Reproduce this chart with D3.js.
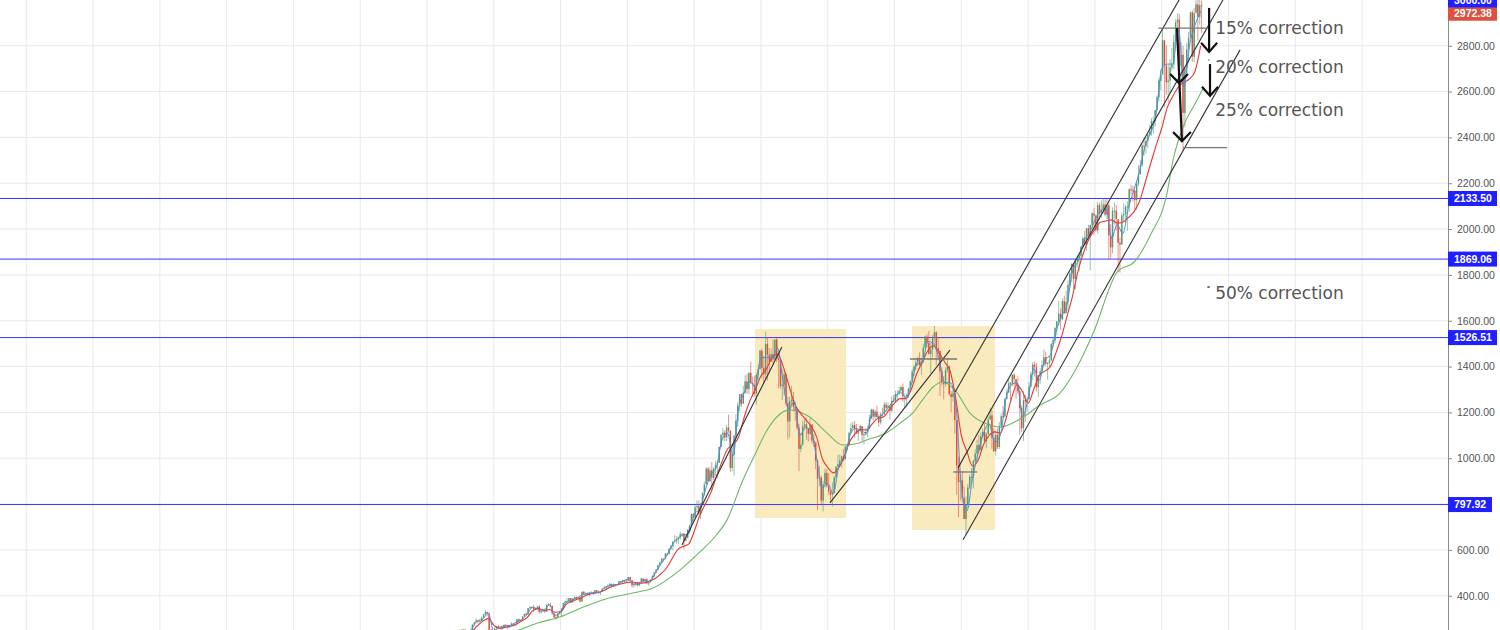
<!DOCTYPE html>
<html><head><meta charset="utf-8">
<script src="https://cdn.jsdelivr.net/npm/d3@7"></script>
<style>body{margin:0;background:#fff;overflow:hidden}svg{display:block}</style>
</head><body>
<svg id="chart" width="1500" height="630"></svg>
<script>
// ---------------- DATA (S&P 500, monthly bars from Jan 1986) ----------------
const firstMonth = 1986;      // first bar = Jan 1986
const firstOpen = 211.3;
const closes = [
211.8,226.9,238.9,235.5,247.4,250.8,236.1,252.9,231.3,244.0,249.2,242.2,
274.1,284.2,291.7,288.4,290.1,304.0,318.7,329.8,321.8,251.8,230.3,247.1,
257.1,267.8,258.9,261.3,262.2,273.5,272.0,261.5,271.9,279.0,273.7,277.7,
297.5,288.9,294.9,309.6,320.5,318.0,346.1,351.5,349.2,340.4,346.0,353.4,
329.1,331.9,339.9,330.8,361.2,358.0,356.2,322.6,306.1,304.0,322.2,330.2,
343.9,367.1,375.2,375.3,389.8,371.2,387.8,395.4,387.9,392.5,375.2,417.1,
408.8,412.7,403.7,415.0,415.4,408.1,424.2,414.0,417.8,418.7,431.4,435.7,
438.8,443.4,451.7,440.2,450.2,450.5,448.1,463.6,458.9,467.8,461.8,466.5,
481.6,467.1,445.8,450.9,456.5,444.3,458.3,475.5,462.7,472.4,453.7,459.3,
470.4,487.4,500.7,514.7,533.4,544.8,562.1,561.9,584.4,581.5,605.4,615.9,
636.0,640.4,645.5,654.2,669.1,670.6,640.0,652.0,687.3,705.3,757.0,740.7,
786.2,790.8,757.1,801.3,848.3,885.1,954.3,899.5,947.3,914.6,955.4,970.4,
980.3,1049.3,1101.8,1111.8,1090.8,1133.8,1120.7,957.3,1017.0,1098.7,1163.6,1229.2,
1279.6,1238.3,1286.4,1335.2,1301.8,1372.7,1328.7,1320.4,1282.7,1362.9,1388.9,1469.3,
1394.5,1366.4,1498.6,1452.4,1420.6,1454.6,1430.8,1517.7,1436.5,1429.4,1315.0,1320.3,
1366.0,1239.9,1160.3,1249.5,1255.8,1224.4,1211.2,1133.6,1040.9,1059.8,1139.5,1148.1,
1130.2,1106.7,1147.4,1076.9,1067.1,989.8,911.6,916.1,815.3,885.8,936.3,879.8,
855.7,841.2,848.2,916.9,963.6,974.5,990.3,1008.0,996.0,1050.7,1058.2,1111.9,
1131.1,1144.9,1126.2,1107.3,1120.7,1140.8,1101.7,1104.2,1114.6,1130.2,1173.8,1211.9,
1181.3,1203.6,1180.6,1156.9,1191.5,1191.3,1234.2,1220.3,1228.8,1207.0,1249.5,1248.3,
1280.1,1280.7,1294.9,1310.6,1270.1,1270.2,1276.7,1303.8,1335.9,1377.9,1400.6,1418.3,
1438.2,1406.8,1420.9,1482.4,1530.6,1503.4,1455.3,1474.0,1526.8,1549.4,1481.1,1468.4,
1378.6,1330.6,1322.7,1385.6,1400.4,1280.0,1267.4,1282.8,1166.4,968.8,896.2,903.3,
825.9,735.1,797.9,872.8,919.1,919.3,987.5,1020.6,1057.1,1036.2,1095.6,1115.1,
1073.9,1104.5,1169.4,1186.7,1089.4,1030.7,1101.6,1049.3,1141.2,1183.3,1180.6,1257.6,
1286.1,1327.2,1325.8,1363.6,1345.2,1320.6,1292.3,1218.9,1131.4,1253.3,1247.0,1257.6,
1312.4,1365.7,1408.5,1397.9,1310.3,1362.2,1379.3,1406.6,1440.7,1412.2,1416.2,1426.2,
1498.1,1514.7,1569.2,1597.6,1630.7,1606.3,1685.7,1633.0,1681.6,1756.5,1805.8,1848.4,
1782.6,1859.5,1872.3,1884.0,1923.6,1960.2,1930.7,2003.4,1972.3,2018.1,2067.6,2058.9,
1995.0,2104.5,2067.9,2085.5,2107.4,2063.1,2103.8,1972.2,1920.0,2079.4,2080.4,2043.9,
1940.2,1932.2,2059.7,2065.3,2097.0,2098.9,2173.6,2171.0,2168.3,2126.2,2198.8,2238.8,
2278.9,2363.6,2362.7,2384.2,2411.8,2423.4,2470.3,2471.7,2519.4,2575.3,2647.6,2673.6,
2823.8,2713.8,2640.9,2648.1,2705.3,2718.4,2816.3,2901.5,2914.0,2711.7,2760.2,2506.9,
2704.1,2784.5,2834.4,2945.8,2752.1,2941.8,2980.4,2926.5,2976.7,2972.4
];
const highs = [
214,227,240,244,248,251,253,254,254,245,250,254,
275,285,302,294,296,310,320,338,329,328,256,253,
262,268,271,264,263,274,274,272,272,284,280,279,
297,301,297,311,322,328,346,354,350,360,347,354,
360,335,345,345,362,368,370,356,325,315,323,332,
344,370,379,391,390,390,389,396,395,395,397,418,
421,414,413,417,420,416,425,424,423,420,432,441,
440,449,456,452,454,451,451,464,464,470,469,471,
482,482,469,454,460,462,461,477,475,474,474,466,
472,489,504,516,533,551,563,564,586,587,608,622,
638,664,661,658,679,674,675,667,691,710,758,762,
794,817,815,805,851,898,961,961,961,983,960,987,
992,1051,1106,1131,1123,1145,1190,1122,1066,1103,1193,1245,
1280,1283,1316,1362,1368,1376,1421,1356,1361,1373,1408,1474,
1479,1445,1553,1528,1481,1479,1518,1519,1530,1450,1433,1390,
1384,1375,1267,1270,1316,1290,1239,1217,1150,1111,1164,1173,
1177,1131,1173,1147,1107,1073,996,966,924,901,955,954,
935,864,895,924,965,1015,1016,1012,1040,1054,1063,1112,
1155,1159,1163,1150,1128,1147,1141,1109,1132,1142,1188,1217,
1217,1212,1229,1192,1200,1220,1246,1245,1243,1233,1270,1276,
1295,1297,1311,1318,1326,1284,1281,1307,1340,1389,1407,1432,
1441,1462,1438,1499,1535,1541,1556,1503,1539,1576,1555,1524,
1471,1396,1359,1397,1440,1404,1293,1314,1304,1167,1007,919,
943,877,833,888,930,957,994,1040,1081,1102,1113,1130,
1150,1113,1181,1220,1208,1132,1121,1130,1158,1196,1228,1263,
1303,1345,1333,1367,1371,1346,1357,1308,1230,1293,1277,1269,
1333,1378,1420,1422,1416,1363,1392,1427,1475,1465,1419,1449,
1504,1530,1570,1598,1687,1654,1698,1709,1730,1776,1814,1850,
1851,1867,1884,1897,1925,1968,1992,2006,2019,2019,2076,2093,
2065,2120,2115,2126,2135,2130,2133,2113,2021,2094,2117,2105,
2038,1963,2073,2112,2104,2121,2178,2194,2188,2169,2214,2278,
2301,2372,2401,2399,2419,2454,2484,2491,2520,2582,2658,2695,
2873,2789,2801,2718,2742,2791,2848,2917,2941,2939,2815,2800,
2708,2813,2861,2949,2955,2965,3028,3014,3022,2998
];
const lows = [
203,211,225,232,235,239,233,235,229,231,240,241,
242,268,282,277,281,288,302,316,311,217,223,223,
243,255,256,253,251,262,263,256,261,270,266,271,
275,287,287,295,307,313,318,341,344,328,337,340,
322,322,331,325,330,356,352,317,300,295,302,318,
309,343,362,369,372,368,371,380,384,381,371,374,
404,405,401,397,410,403,408,411,407,403,416,426,
425,431,440,436,437,440,442,446,453,457,455,460,
464,464,436,435,442,441,444,456,458,454,449,443,
457,469,482,500,511,528,541,549,559,572,580,599,
598,633,627,625,644,658,605,638,651,685,703,723,
737,773,754,734,798,836,889,898,898,855,905,923,
912,980,1048,1076,1074,1075,1111,940,943,924,1087,1137,
1205,1224,1237,1282,1281,1279,1325,1268,1268,1233,1343,1387,
1350,1326,1346,1339,1373,1422,1413,1429,1419,1305,1303,1254,
1275,1229,1081,1091,1232,1204,1164,1124,944,1026,1054,1124,
1081,1074,1101,1064,1049,952,776,877,800,768,873,872,
841,807,789,847,902,962,963,960,989,995,1031,1053,
1106,1124,1087,1107,1077,1113,1076,1060,1099,1091,1127,1173,
1163,1172,1177,1137,1147,1180,1191,1201,1205,1168,1201,1246,
1245,1253,1277,1291,1246,1219,1224,1264,1290,1327,1360,1385,
1403,1389,1364,1416,1479,1484,1452,1371,1439,1490,1407,1435,
1271,1317,1257,1313,1373,1272,1200,1247,1107,840,742,815,
805,735,667,783,866,889,869,979,992,1020,1029,1086,
1071,1045,1105,1170,1040,1028,1011,1040,1040,1132,1173,1187,
1262,1289,1250,1314,1312,1259,1282,1101,1114,1075,1158,1203,
1259,1312,1340,1357,1292,1267,1325,1378,1397,1403,1343,1398,
1426,1485,1502,1536,1581,1560,1605,1628,1633,1646,1746,1768,
1738,1737,1834,1815,1862,1915,1930,1905,1964,1821,2001,1973,
1988,1981,2040,2048,2067,2056,2044,1867,1872,1894,2019,1993,
1812,1810,1937,2033,2026,1992,2074,2148,2120,2084,2084,2187,
2245,2271,2322,2329,2353,2406,2407,2417,2447,2520,2557,2605,
2683,2533,2586,2554,2594,2692,2699,2803,2864,2604,2631,2347,
2444,2681,2722,2848,2729,2728,2952,2822,2892,2856
];
// fast (blue) and medium (red) averages, quarterly from 1986.0
const fastMA = [
208,232,245,240, 255,290,298,325, 245,262,268,268, 285,295,320,350,
340,336,360,315, 330,372,380,391, 405,408,412,416, 437,446,448,460,
472,452,450,466, 462,498,538,572, 620,648,665,670, 755,780,860,930,
960,1080,1110,1010, 1220,1285,1335,1310, 1440,1440,1440,1480, 1330,1210,1250,1100,
1135,1120,1000,870, 890,845,965,1000, 1100,1130,1120,1110, 1200,1180,1195,1225,
1260,1290,1265,1320, 1410,1420,1510,1500, 1430,1330,1330,1240, 880,770,910,1020,
1110,1150,1070,1100, 1260,1320,1330,1180, 1260,1390,1340,1430, 1450,1550,1620,1670,
1820,1860,1950,1980, 2040,2080,2090,1960, 2020,1980,2090,2170, 2250,2360,2420,2500,
2700,2720,2720,2880, 2620,2800,2890,2950
];
const midMA = [
205,222,238,243, 245,268,288,300, 272,258,262,268, 275,290,305,335,
345,335,340,328, 330,362,375,385, 395,405,412,415, 425,438,447,452,
458,460,455,456, 464,475,495,520, 560,600,615,625, 680,750,800,850,
920,985,1040,1060, 1093,1180,1250,1300, 1360,1390,1440,1455, 1400,1320,1240,1200,
1170,1140,1093,1000, 960,936,960,1010, 1075,1110,1125,1123, 1150,1175,1180,1210,
1240,1260,1260,1300, 1370,1420,1470,1490, 1460,1420,1380,1260, 1100,1030,966,990,
1060,1100,1115,1110, 1170,1260,1320,1290, 1240,1300,1360,1380, 1400,1460,1530,1620,
1710,1820,1900,1960, 2000,2030,2035,2040, 2026,2030,2050,2075, 2120,2200,2285,2365,
2440,2530,2580,2620, 2640,2655,2690,2800
];
// slow (green) average, read as [year, value]
const slowMA = [
[1987.5,200],[1988.5,233],[1989.16,252],[1990.0,282],[1990.96,307],[1992.0,350],[1993.0,385],
[1994.24,412],[1995.15,434],[1996.36,512],[1997.26,591],[1998.0,665],[1998.47,730],[1999.19,905],
[1999.72,1014],[2000.2,1110],[2000.71,1180],[2001.29,1211],[2001.8,1200],[2002.19,1180],[2002.96,1111],
[2003.67,1058],[2004.2,1062],[2004.75,1080],[2005.65,1111],[2006.2,1150],[2006.82,1198],[2007.3,1260],
[2007.73,1311],[2008.13,1333],[2008.72,1297],[2009.39,1197],[2010.15,1149],[2010.74,1136],[2011.64,1171],
[2012.54,1232],[2013.43,1284],[2014.2,1398],[2014.92,1545],[2016.0,1812],[2016.8,1860],[2017.5,1975],
[2018.24,2157],[2018.51,2301],[2018.96,2445],[2019.59,2563],[2019.86,2615]
];
const yTicks = [400,600,800,1000,1200,1400,1600,1800,2000,2200,2400,2600,2800];
const gridYears = [1967,1970,1973,1976,1979,1982,1985,1988,1991,1994,1997,2000,2003,2006,2009,2012,2015,2018,2021,2024,2027];
const levels = [2133.50, 1869.06, 1526.51, 797.92];
const lastPrice = 2972.38;
const topLabel = 3000.00;
// highlighted zones [x0, x1, y0, y1] in (year, price)
const zones = [[1999.73,2003.82,739,1564],[2006.79,2010.51,687,1577]];
// drawn trend lines [year0, price0, year1, price1]
const trendLines = [
[1996.45,621,2000.94,1485],
[2003.10,805,2008.49,1472],
[2008.72,1289,2018.78,3000],
[2008.85,958,2020.75,3000],
[2009.08,644,2021.52,2782]
];
const markLines = [
[2017.85,2877,2020.17,2877],
[2018.96,2355,2020.94,2355],
[2006.69,1433,2008.81,1433],
[2008.63,940,2009.71,940]
];
// arrows: shaft [y0,p0,y1,p1] + heads [tipYear, tipPrice, halfWidthYears, depthPrice]
const arrowShafts = [
[2018.69,2877,2018.91,2384],
[2020.13,2965,2020.13,2773],
[2020.17,2720,2020.17,2581]
];
const arrowHeads = [
[2018.78,2637,0.40,40],
[2018.91,2384,0.40,40],
[2020.13,2773,0.36,40],
[2020.17,2581,0.36,40]
];
const notes = [
["15% correction",2020.40,2877],
["20% correction",2020.40,2708],
["25% correction",2020.40,2520],
["50% correction",2020.40,1722]
];
const smallMarks = [[2020.10,2738,2020.14,2738],[2020.05,1747,2020.16,1747]];

// ---------------- DRAW ----------------
const W = 1500, H = 630, plotW = 1448;
const svg = d3.select("#chart");
const x = d3.scaleLinear().domain([1965.82, 2030.86]).range([0, plotW]);
const y = d3.scaleLinear().domain([250.5, 2999.6]).range([H, 0]);

svg.append("rect").attr("width", W).attr("height", H).attr("fill", "#fff");
svg.append("defs").append("clipPath").attr("id","plot")
  .append("rect").attr("x",0).attr("y",0).attr("width",plotW).attr("height",H);
const g = svg.append("g").attr("clip-path","url(#plot)");

// grid
g.append("g").selectAll("line").data(gridYears).join("line")
  .attr("x1", d => x(d)).attr("x2", d => x(d)).attr("y1", 0).attr("y2", H)
  .attr("stroke", "#e9e9ec").attr("stroke-width", 1);
g.append("g").selectAll("line").data(yTicks).join("line")
  .attr("x1", 0).attr("x2", plotW).attr("y1", d => y(d)).attr("y2", d => y(d))
  .attr("stroke", "#e9e9ec").attr("stroke-width", 1);

// zones
g.append("g").selectAll("rect").data(zones).join("rect")
  .attr("x", d => x(d[0])).attr("width", d => x(d[1]) - x(d[0]))
  .attr("y", d => y(d[3])).attr("height", d => y(d[2]) - y(d[3]))
  .attr("fill", "#f9e9b8").attr("fill-opacity", 0.9);

// level lines
g.append("g").selectAll("line").data(levels).join("line")
  .attr("x1", 0).attr("x2", plotW).attr("y1", d => y(d)).attr("y2", d => y(d))
  .attr("stroke", "#3535ff").attr("stroke-width", 1);

// candles
const bars = closes.map((c, i) => ({
  t: firstMonth + (i + 0.5) / 12,
  o: i ? closes[i - 1] : firstOpen, c, h: highs[i], l: lows[i]
}));
const cg = g.append("g");
const upCol = "#559a70", dnCol = "#de4c3e";
cg.selectAll("line").data(bars).join("line")
  .attr("x1", d => x(d.t)).attr("x2", d => x(d.t))
  .attr("y1", d => y(d.h)).attr("y2", d => y(d.l))
  .attr("stroke", d => d.c >= d.o ? upCol : dnCol).attr("stroke-width", 0.7).attr("stroke-opacity", 0.85);
cg.selectAll("rect").data(bars).join("rect")
  .attr("x", d => x(d.t) - 0.7).attr("width", 1.4)
  .attr("y", d => y(Math.max(d.o, d.c)))
  .attr("height", d => Math.max(1, Math.abs(y(d.o) - y(d.c))))
  .attr("fill", d => d.c >= d.o ? upCol : dnCol);

// averages
const lineGen = d3.line().x(d => x(d[0])).y(d => y(d[1])).curve(d3.curveMonotoneX);
const quarterly = arr => arr.map((v, i) => [firstMonth + i / 4, v]);
g.append("path").datum(slowMA).attr("d", lineGen).attr("fill","none")
  .attr("stroke","#6db86a").attr("stroke-width",1.1);
g.append("path").datum(quarterly(midMA)).attr("d", lineGen).attr("fill","none")
  .attr("stroke","#e8392f").attr("stroke-width",1.1);
g.append("path").datum(quarterly(fastMA)).attr("d", lineGen).attr("fill","none")
  .attr("stroke","#4a8fe0").attr("stroke-width",1);

// trend lines
g.append("g").selectAll("line").data(trendLines).join("line")
  .attr("x1", d => x(d[0])).attr("y1", d => y(d[1])).attr("x2", d => x(d[2])).attr("y2", d => y(d[3]))
  .attr("stroke","#333").attr("stroke-width",1.1);
g.append("g").selectAll("line").data(markLines).join("line")
  .attr("x1", d => x(d[0])).attr("y1", d => y(d[1])).attr("x2", d => x(d[2])).attr("y2", d => y(d[3]))
  .attr("stroke","#777").attr("stroke-width",1.3);

// arrows
g.append("g").selectAll("line").data(arrowShafts).join("line")
  .attr("x1", d => x(d[0])).attr("y1", d => y(d[1])).attr("x2", d => x(d[2])).attr("y2", d => y(d[3]))
  .attr("stroke","#111").attr("stroke-width",2.2);
g.append("g").selectAll("path").data(arrowHeads).join("path")
  .attr("d", d => `M${x(d[0]-d[2])},${y(d[1]+d[3])}L${x(d[0])},${y(d[1])}L${x(d[0]+d[2])},${y(d[1]+d[3])}`)
  .attr("fill","none").attr("stroke","#111").attr("stroke-width",2.2);
g.append("g").selectAll("line").data(smallMarks).join("line")
  .attr("x1", d => x(d[0])).attr("y1", d => y(d[1])).attr("x2", d => x(d[2])).attr("y2", d => y(d[3]))
  .attr("stroke","#444").attr("stroke-width",1.5);

// notes
g.append("g").selectAll("text").data(notes).join("text")
  .attr("x", d => x(d[1])).attr("y", d => y(d[2])).attr("dy","0.35em")
  .attr("font-family","DejaVu Sans, sans-serif").attr("font-size",17).attr("fill","#555")
  .text(d => d[0]);

// right axis
const ax = svg.append("g").attr("transform", `translate(${plotW},0)`)
  .call(d3.axisRight(y).tickValues(yTicks).tickFormat(d3.format(".2f")).tickSize(4).tickPadding(5));
ax.select(".domain").attr("stroke","#8a8a8a");
ax.selectAll(".tick line").attr("stroke","#8a8a8a");
ax.selectAll(".tick text").attr("fill","#555").attr("font-family","Liberation Sans, Arial, sans-serif").attr("font-size",10.5);

// price labels
const lbl = [...levels.map(v => ({v, col:"#1f1fff"})), {v: lastPrice, col:"#dc513f", off: 7}, {v: topLabel, col:"#1f1fff"}];
const lg = svg.append("g");
lbl.forEach(d => {
  const cy = y(d.v) + (d.off || 0);
  const txt = d3.format(".2f")(d.v);
  const w = txt.length > 6 ? 49 : 44;
  lg.append("rect").attr("x", plotW).attr("y", cy - 7.5).attr("width", w).attr("height", 15).attr("fill", d.col);
  lg.append("text").attr("x", plotW + 6).attr("y", cy).attr("dy","0.35em")
    .attr("fill","#fff").attr("font-family","Liberation Sans, Arial, sans-serif").attr("font-size",10.5).attr("font-weight","bold")
    .text(txt);
});
</script>
</body></html>
